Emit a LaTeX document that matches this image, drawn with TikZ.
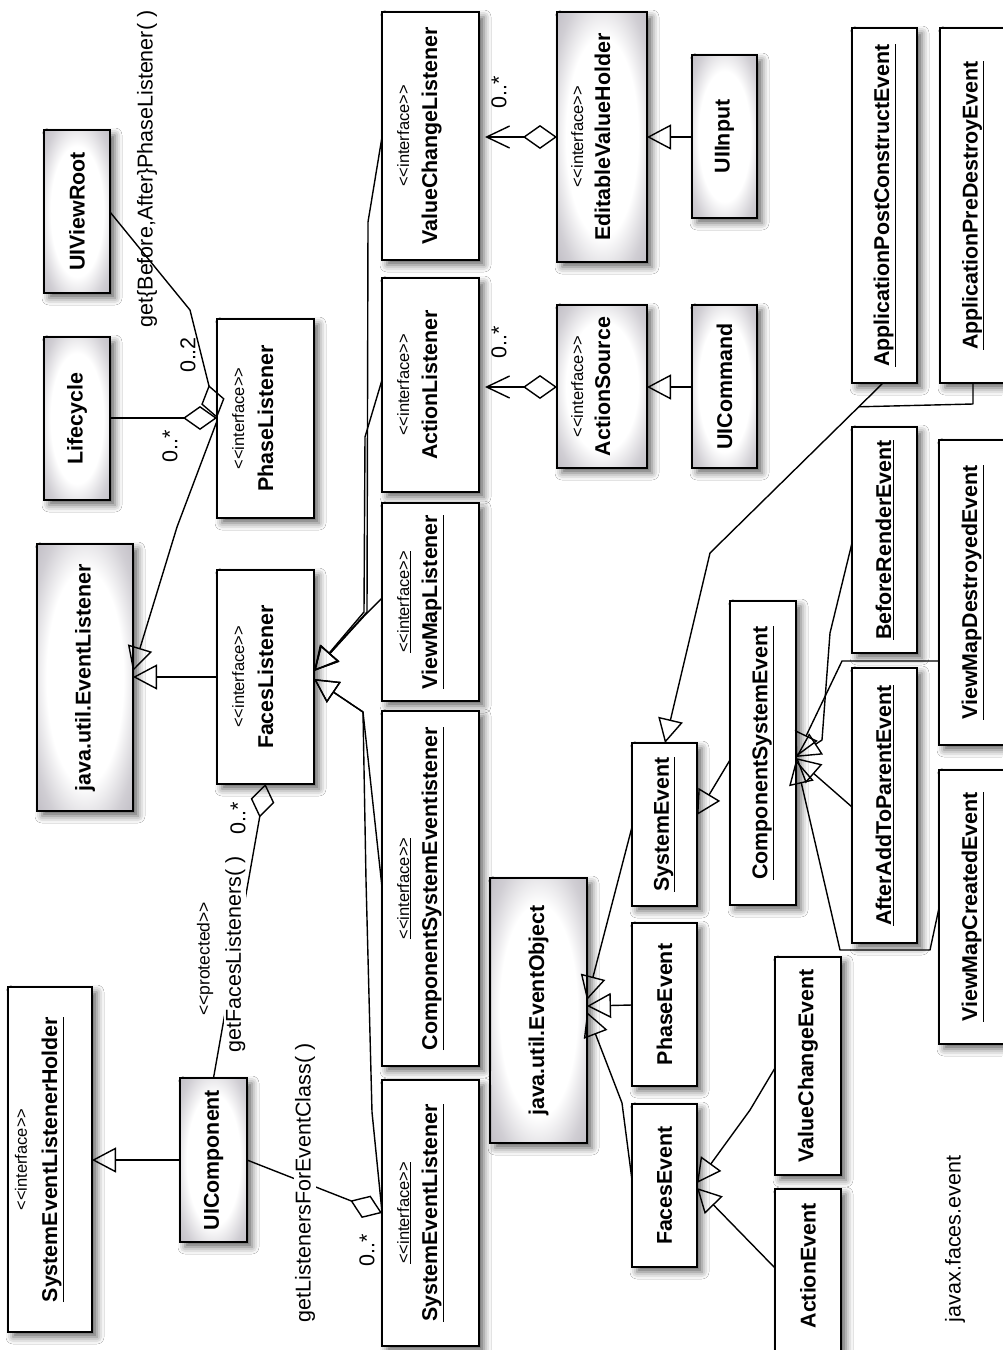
\documentclass[tikz,border=0pt]{standalone}
\usepackage{fontspec}
\setmainfont{Liberation Sans}[Ligatures=TeXOff]
\usetikzlibrary{arrows.meta,shadows.blur,calc}
\definecolor{boxgray}{RGB}{170,166,176}
\pgfdeclareradialshading{boxshade}{\pgfpoint{0bp}{0bp}}{color(0bp)=(white); color(20bp)=(white); color(30bp)=(boxgray!55!white); color(44bp)=(boxgray); color(50bp)=(boxgray)}
\newcommand\nmfont{\fontsize{21.4}{24}\selectfont\bfseries}
\newcommand\stfont{\fontsize{16.5}{19}\selectfont}
\newcommand\lbfont{\fontsize{21.5}{24}\selectfont}
\newcommand\umlbox[6][wbox]{\node[#1, minimum width={(#5-#3)*1pt}, minimum height={(#6-#4)*1pt}] (#2) at ({(#3+#5)/2},{(#4+#6)/2}) {};}
\newcommand\iface[5]{%
  \node[sttext, anchor=base] at ([xshift=#2pt]#1.west) {#4};
  \node[nmtext, anchor=base] at ([xshift=#3pt]#1.west) {#5};}
\begin{document}
\begin{tikzpicture}[x=1pt,y=-1pt,
  box/.style={draw, line width=1.8pt, inner sep=0pt, outer sep=0pt,
    blur shadow={shadow xshift=5pt, shadow yshift=-5pt, shadow blur radius=7pt, shadow opacity=60}},
  wbox/.style={box, fill=white},
  gbox/.style={box, shade, shading=boxshade},
  nmtext/.style={font=\nmfont, rotate=90, inner sep=0pt},
  sttext/.style={font=\stfont, rotate=90, inner sep=0pt},
  lbl/.style={font=\lbfont, rotate=90, inner sep=1pt},
  conn/.style={line width=1.4pt, line join=round},
  gen/.style={conn, -{Triangle[open, length=24pt, width=25pt]}},
  agg/.style={conn, -{Diamond[open, length=34pt, width=24pt]}},
  nav/.style={conn, {Diamond[open, length=34pt, width=24pt]}-{Straight Barb[length=23pt, width=22pt]}, shorten >=6pt}]
\fill[white] (0,0) rectangle (1002,1350);
\useasboundingbox (0,0) rectangle (1002,1350);

% ---- boxes ----
\umlbox[gbox]{uiviewroot}{44}{130}{110}{293}
\umlbox[gbox]{lifecycle}{44}{337}{110}{500}
\umlbox[gbox]{evlistener}{37}{544}{133}{811}
\umlbox[gbox]{uicomponent}{180}{1078}{247}{1242}
\umlbox[gbox]{evobject}{490}{878}{587}{1143}
\umlbox[gbox]{evh}{557}{12}{647}{262}
\umlbox[gbox]{actsource}{557}{305}{647}{468}
\umlbox[gbox]{uiinput}{692}{55}{757}{218}
\umlbox[gbox]{uicommand}{692}{305}{757}{468}

\umlbox{selh}{8}{987}{92}{1332}
\umlbox{phasel}{217}{319}{314}{518}
\umlbox{facesl}{217}{570}{314}{784}
\umlbox{vcl}{382}{12}{479}{260}
\umlbox{actl}{382}{278}{479}{492}
\umlbox{vml}{382}{503}{479}{701}
\umlbox{csel}{382}{711}{479}{1066}
\umlbox{sel}{382}{1080}{479}{1346}
\umlbox{apce}{852}{28}{917}{383}
\umlbox{apde}{940}{28}{1006}{383}
\umlbox{bre}{852}{427}{917}{653}
\umlbox{vmde}{939}{440}{1006}{745}
\umlbox{aatpe}{852}{668}{917}{943}
\umlbox{vmce}{939}{770}{1006}{1044}
\umlbox{cse}{730}{601}{796}{905}
\umlbox{se}{632}{743}{697}{906}
\umlbox{pe}{632}{923}{697}{1086}
\umlbox{fe}{632}{1104}{697}{1267}
\umlbox{vce}{775}{957}{841}{1175}
\umlbox{ae}{775}{1189}{841}{1360}

% ---- box texts ----
\node[nmtext] at (uiviewroot.center) {UIViewRoot};
\node[nmtext] at (lifecycle.center) {Lifecycle};
\node[nmtext] at (evlistener.center) {java.util.EventListener};
\node[nmtext] at (uicomponent.center) {UIComponent};
\node[nmtext] at (evobject.center) {java.util.EventObject};
\node[nmtext] at (uiinput.center) {UIInput};
\node[nmtext] at (uicommand.center) {UICommand};
\iface{evh}{26}{53}{<<interface>>}{EditableValueHolder}
\iface{actsource}{26}{53}{<<interface>>}{ActionSource}
\iface{selh}{19}{49}{<<interface>>}{\underline{SystemEventListenerHolder}}
\iface{phasel}{27}{56}{<<interface>>}{PhaseListener}
\iface{facesl}{27}{56}{<<interface>>}{FacesListener}
\iface{vcl}{27}{55}{<<interface>>}{ValueChangeListener}
\iface{actl}{27}{55}{<<interface>>}{ActionListener}
\iface{vml}{27}{55}{\underline{<<interface>>}}{\underline{ViewMapListener}}
\iface{csel}{27}{55}{\underline{<<interface>>}}{\underline{ComponentSystemEventistener}}
\iface{sel}{27}{55}{\underline{<<interface>>}}{\underline{SystemEventListener}}
\node[nmtext] at (apce.center) {\underline{ApplicationPostConstructEvent}};
\node[nmtext] at (apde.center) {\underline{ApplicationPreDestroyEvent}};
\node[nmtext] at (bre.center) {\underline{BeforeRenderEvent}};
\node[nmtext] at (vmde.center) {\underline{ViewMapDestroyedEvent}};
\node[nmtext] at (aatpe.center) {\underline{AfterAddToParentEvent}};
\node[nmtext] at (vmce.center) {\underline{ViewMapCreatedEvent}};
\node[nmtext] at (cse.center) {\underline{ComponentSystemEvent}};
\node[nmtext] at (se.center) {\underline{SystemEvent}};
\node[nmtext] at (pe.center) {PhaseEvent};
\node[nmtext] at (fe.center) {FacesEvent};
\node[nmtext] at (vce.center) {ValueChangeEvent};
\node[nmtext] at (ae.center |- 0,1266) {ActionEvent};

% ---- connectors: listeners ----
\draw[agg] (uiviewroot.east |- 0,212) -- (190,310) -- (phasel.west |- 0,418);
\draw[agg] (lifecycle.east |- 0,418) -- (phasel.west |- 0,418);
\draw[gen] (phasel.west |- 0,421) -- (177,527) -- (evlistener.east |- 0,671);
\draw[gen] (facesl.west |- 0,677) -- (evlistener.east |- 0,677);
\draw[gen] (vcl.west |- 0,137) -- (368,222) -- (367,612) -- (facesl.east |- 0,671);
\draw[gen] (actl.west |- 0,380) -- (365,437) -- (364,612) -- (facesl.east |- 0,671);
\draw[gen] (vml.west |- 0,598) -- (366,614) -- (facesl.east |- 0,671);
\draw[gen] (csel.west |- 0,887) -- (363,712) -- (facesl.east |- 0,679);
\draw[gen] (sel.west |- 0,1212) -- (372,1112) -- (366,880) -- (363,712) -- (facesl.east |- 0,679);
\draw[gen] (uicomponent.west |- 0,1160) -- (selh.east |- 0,1160);
\draw[agg] (uicomponent.east |- 0,1160) -- node[lbl, fill=white, pos=0.43] {getListenersForEventClass( )} (sel.west |- 0,1213);
\draw[agg] (uicomponent.north) -- node[lbl, fill=white, pos=0.42] {getFacesListeners( )} (facesl.south);
\draw[nav] (evh.west |- 0,137) -- (vcl.east |- 0,137);
\draw[nav] (actsource.west |- 0,387) -- (actl.east |- 0,387);
\draw[gen] (uiinput.west |- 0,137) -- (evh.east |- 0,137);
\draw[gen] (uicommand.west |- 0,387) -- (actsource.east |- 0,387);

% ---- connectors: events ----
\draw[gen] (apce.south -| 883,0) -- coordinate[pos=0.14] (join) (710,553) -- (se.north -| 665,0);
\draw[conn] (apde.south -| 973,0) -- (973,404) -- (join);
\draw[gen] (bre.west |- 0,543) -- (830,633) -- (822,740) -- (cse.east |- 0,757);
\draw[gen] (vmde.west |- 0,661) -- (842,661) -- (cse.east |- 0,757);
\draw[gen] (aatpe.west |- 0,807) -- (cse.east |- 0,758);
\draw[gen] (vmce.west |- 0,908) -- (930,950) -- (840,950) -- (cse.east |- 0,760);
\draw[gen] (cse.west |- 0,760) -- (se.east |- 0,815);
\draw[gen] (se.west |- 0,827) -- (evobject.east |- 0,1000);
\draw[gen] (pe.west |- 0,1005) -- (evobject.east |- 0,1006);
\draw[gen] (fe.west |- 0,1180) -- (622,1103) -- (evobject.east |- 0,1012);
\draw[gen] (vce.west |- 0,1068) -- (750,1110) -- (fe.east |- 0,1183);
\draw[gen] (ae.west |- 0,1268) -- (fe.east |- 0,1188);

% ---- labels ----
\node[lbl] (lblphase) at (147,169) {get\{Before,After\}PhaseListener( )};
\node[lbl] (m02) at (188,355) {0..2};
\node[lbl] (mlife) at (170,446) {0..*};
\node[lbl] (mfaces) at (238,818) {0..*};
\node[lbl] (msel) at (367,1250) {0..*};
\node[lbl] (mvcl) at (499,92) {0..*};
\node[lbl] (mactl) at (499,342) {0..*};
\node[font=\fontsize{17.5}{20}\selectfont, rotate=90, inner sep=0pt] (prot) at (205,959) {<<protected>>};
\node[lbl] (pkg) at (955,1239) {javax.faces.event};
\end{tikzpicture}
\end{document}
